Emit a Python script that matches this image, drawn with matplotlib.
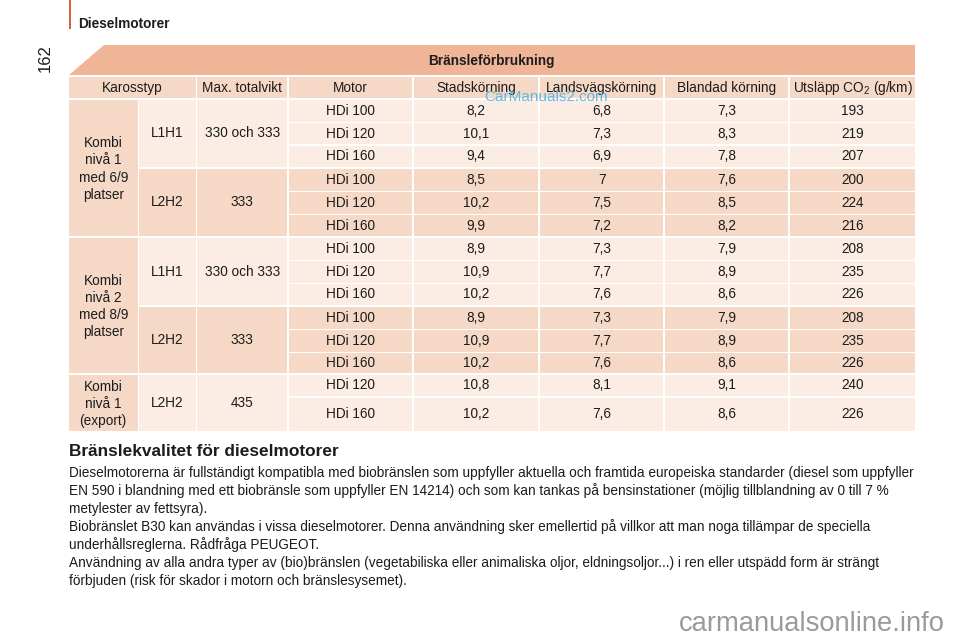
import matplotlib
matplotlib.use('Agg')
import matplotlib.pyplot as plt
from matplotlib.patches import Polygon, Rectangle

plt.rcParams['font.family'] = ['Liberation Sans', 'DejaVu Sans']
plt.rcParams['mathtext.default'] = 'regular'

# Table contents
headers = ['Karosstyp', 'Max. totalvikt', 'Motor', 'Stadskörning', 'Landsvägskörning',
           'Blandad körning', 'Utsläpp CO$_2$ (g/km)']
motors = ['HDi 100', 'HDi 120', 'HDi 160', 'HDi 100', 'HDi 120', 'HDi 160',
          'HDi 100', 'HDi 120', 'HDi 160', 'HDi 100', 'HDi 120', 'HDi 160',
          'HDi 120', 'HDi 160']
stad = ['8,2', '10,1', '9,4', '8,5', '10,2', '9,9', '8,9', '10,9', '10,2',
        '8,9', '10,9', '10,2', '10,8', '10,2']
lands = ['6,8', '7,3', '6,9', '7', '7,5', '7,2', '7,3', '7,7', '7,6',
         '7,3', '7,7', '7,6', '8,1', '7,6']
blandad = ['7,3', '8,3', '7,8', '7,6', '8,5', '8,2', '7,9', '8,9', '8,6',
           '7,9', '8,9', '8,6', '9,1', '8,6']
utslapp = ['193', '219', '207', '200', '224', '216', '208', '235', '226',
           '208', '235', '226', '240', '226']
kombi = ['Kombi\nnivå 1\nmed 6/9\nplatser', 'Kombi\nnivå 2\nmed 8/9\nplatser', 'Kombi\nnivå 1\n(export)']
kaross = ['L1H1', 'L2H2', 'L1H1', 'L2H2', 'L2H2']
vikt = ['330 och 333', '333', '330 och 333', '333', '435']

# Body text
para1 = ['Dieselmotorerna är fullständigt kompatibla med biobränslen som uppfyller aktuella och framtida europeiska standarder (diesel som uppfyller',
         'EN 590 i blandning med ett biobränsle som uppfyller EN 14214) och som kan tankas på bensinstationer (möjlig tillblandning av 0 till 7 %',
         'metylester av fettsyra).']
para2 = ['Biobränslet B30 kan användas i vissa dieselmotorer. Denna användning sker emellertid på villkor att man noga tillämpar de speciella',
         'underhållsreglerna. Rådfråga PEUGEOT.']
para3 = ['Användning av alla andra typer av (bio)bränslen (vegetabiliska eller animaliska oljor, eldningsoljor...) i ren eller utspädd form är strängt',
         'förbjuden (risk för skador i motorn och bränslesysemet).']

# Layout in pixels
col_x = [69, 139.3, 197.3, 289, 413.5, 540, 665, 790, 916.8]
row_top = [100, 123.3, 146, 169, 192, 215, 238, 261, 284, 307, 330, 353, 374.7, 397.5]
row_bot = [121.7, 144.3, 166.8, 190.5, 213.5, 236, 259.5, 282.5, 305, 328.5, 351.5, 373, 395.8, 431]
dark = '#f5d8c6'
light = '#fbede3'
title_col = '#efb596'
ink = '#1c1c1c'
gap = 1.8
fs = 9.8

fig = plt.figure(figsize=(9.6, 6.4), dpi=100)
ax = fig.add_axes([0, 0, 1, 1])
ax.set_xlim(0, 960)
ax.set_ylim(640, 0)
ax.axis('off')


def cell(x0, x1, y0, y1, color, label=None, text_y=None):
    ax.add_patch(Rectangle((x0, y0), x1 - x0 - gap, y1 - y0, facecolor=color, edgecolor='none'))
    if label:
        if text_y is None:
            text_y = (y0 + y1) / 2 + 4
        ax.text((x0 + x1 - gap) / 2, text_y, label, ha='center', va='baseline',
                fontsize=fs, color=ink)


# Page header
ax.add_patch(Rectangle((68.5, 0), 2.5, 29, facecolor='#d9603b', edgecolor='none'))
ax.text(78, 28, 'Dieselmotorer', fontsize=9.85, fontweight='bold', color=ink, ha='left', va='baseline')
ax.text(45.5, 58.5, '162', fontsize=12, rotation=90, color=ink, ha='center', va='center')

# Title band
ax.add_patch(Polygon([(69, 75), (104, 45), (915, 45), (915, 75)], facecolor=title_col, edgecolor='none'))
ax.text(491, 65.5, 'Bränsleförbrukning', fontsize=9.85, fontweight='bold', color=ink, ha='center', va='baseline')

# Header row
header_x = [col_x[0], col_x[2], col_x[3], col_x[4], col_x[5], col_x[6], col_x[7]]
header_end = header_x[1:] + [col_x[8]]
for h, x0, x1 in zip(headers, header_x, header_end):
    cell(x0, x1, 76.8, 98.2, dark, h, text_y=92)

# Engine rows
for i in range(len(motors)):
    color = light if i // 3 in (0, 2, 4) else dark
    values = [motors[i], stad[i], lands[i], blandad[i], utslapp[i]]
    for j, v in enumerate(values):
        cell(col_x[3 + j], col_x[4 + j] if j < 4 else col_x[8], row_top[i], row_bot[i], color, v)

# Left spanning cells
kombi_rows = [(0, 5), (6, 11), (12, 13)]
for label, (a, b) in zip(kombi, kombi_rows):
    ax.add_patch(Rectangle((col_x[0], row_top[a]), col_x[1] - col_x[0] - gap, row_bot[b] - row_top[a],
                           facecolor=dark, edgecolor='none'))
    ax.text((col_x[0] + col_x[1] - gap) / 2, (row_top[a] + row_bot[b]) / 2 + 1, label, ha='center', va='center',
            fontsize=fs, color=ink, linespacing=1.3)

span_rows = [(0, 2), (3, 5), (6, 8), (9, 11), (12, 13)]
for k, (a, b) in enumerate(span_rows):
    color = light if k in (0, 2, 4) else dark
    cell(col_x[1], col_x[2], row_top[a], row_bot[b], color, kaross[k])
    cell(col_x[2], col_x[3], row_top[a], row_bot[b], color, vikt[k])

# Text below table
ax.text(69, 456, 'Bränslekvalitet för dieselmotorer', fontsize=12.4, fontweight='bold', color=ink,
        ha='left', va='baseline')
line_y = [476.5, 495, 513, 531.5, 549.5, 567.5, 585.5]
lines = para1 + para2 + para3
for y, line in zip(line_y, lines):
    ax.text(69, y, line, fontsize=9.8, color=ink, ha='left', va='baseline')

# Watermarks
ax.text(546.5, 97, 'CarManuals2.com', fontsize=11, color='#4fb3e8', alpha=0.9, ha='center', va='center')
ax.text(812, 624, 'carmanualsonline.info', fontsize=19.7, color='#9a9a9a', ha='center', va='center')

fig.savefig('out.png', dpi=100)
